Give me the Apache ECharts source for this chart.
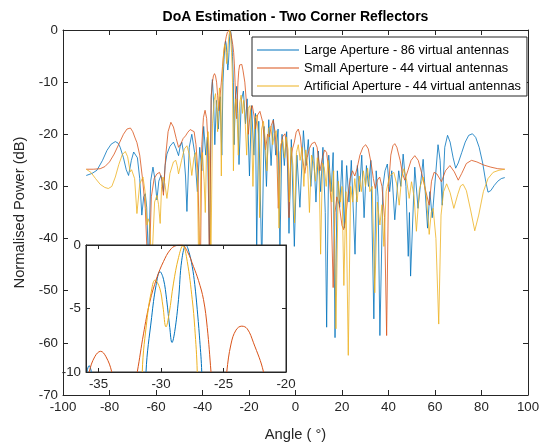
<!DOCTYPE html>
<html>
<head>
<meta charset="utf-8">
<script src="https://cdn.jsdelivr.net/npm/echarts@6/dist/echarts.min.js"></script>
<style>html,body{margin:0;padding:0;background:#fff}#c{width:549px;height:447px}</style>
</head>
<body>
<div id="c"></div>
<script>
// ---- data: [angle (deg), normalised power (dB)] ----
const seriesNames = ['Large Aperture - 86 virtual antennas', 'Small Aperture - 44 virtual antennas', 'Artificial Aperture - 44 virtual antennas'];
const mainXTicks = [-100, -80, -60, -40, -20, 0, 20, 40, 60, 80, 100];
const mainYTicks = [-70, -60, -50, -40, -30, -20, -10, 0];
const insetXTicks = [-35, -30, -25, -20];
const insetYTicks = [-10, -5, 0];

const largeAperture = [
[-90,-27.9],[-87.5,-27.5],[-85.4,-26.9],[-83,-25],[-81.1,-23.1],[-79.3,-21.9],[-77.5,-21.4],[-76.3,-21.7],[-75.4,-22.5],[-74,-24.5],[-72.8,-26.8],[-71.8,-27.9],[-70.6,-25],[-69.6,-23.4],[-68.9,-23.1],[-68,-24.5],[-67,-28.5],[-66.1,-35.5],[-65.3,-32],[-64.6,-31.4],[-64,-34],[-63.2,-45],[-62.3,-29],[-61.3,-26.3],[-60.4,-28.8],[-59.6,-32.6],[-58.8,-29],[-57.9,-27.9],[-57.3,-29],[-56.8,-31.0],[-56.1,-26],[-55.3,-23.8],[-54,-22.3],[-52.5,-21.5],[-51.3,-22.8],[-50.3,-24.1],[-49.6,-22.3],[-48.9,-21.5],[-48,-24],[-47.3,-28],[-46.7,-34.8],[-45.7,-22.5],[-44.6,-20.0],[-43.4,-23.5],[-42.2,-31.0],[-41.2,-22.5],[-40.3,-27],[-39.5,-18.5],[-38.6,-24],[-37.9,-20.5],[-37.0,-42],[-36.2,-12.5],[-35.75,-9.5],[-35.2,-14],[-34.7,-22],[-34.0,-13.5],[-33.2,-19],[-32.4,-12.8],[-31.7,-24],[-31.2,-10],[-30.75,-5.7],[-30.4,-3.2],[-30.08,-2.1],[-29.8,-2.7],[-29.55,-4.3],[-29.3,-6.5],[-29.12,-7.68],[-28.9,-6.8],[-28.6,-4.3],[-28.34,-1.2],[-28.0,0],[-27.75,-0.6],[-27.5,-1.7],[-27.3,-3.1],[-27.1,-5.1],[-26.9,-7.5],[-26.74,-10],[-26.4,-22],[-25.8,-12.5],[-25.3,-10.8],[-24.8,-16],[-24.3,-25.8],[-23.3,-13.5],[-22.4,-11.7],[-21.5,-18],[-20.8,-13.2],[-19.8,-28],[-18.9,-14.5],[-17.9,-24],[-17.2,-16],[-16.7,-42],[-15.8,-17.5],[-14.5,-45],[-13.5,-18.5],[-12.5,-30],[-11.5,-17.2],[-10.5,-26],[-9.5,-17.1],[-8.5,-24],[-7.5,-19],[-6.7,-42],[-5.8,-20],[-4.8,-26],[-3.8,-19.5],[-2.8,-39],[-1.8,-21],[-0.5,-41.5],[0.6,-24],[1.9,-34],[3.4,-19.3],[4.5,-26],[5.5,-21],[6.6,-30],[7.7,-22.5],[8.8,-33],[9.8,-23.2],[10.8,-31],[11.8,-22.5],[12.8,-35],[13.4,-57],[14.3,-24],[15.3,-31],[16.2,-23.5],[17.0,-59],[18.0,-27],[19.0,-34],[20.0,-25],[21.0,-38],[22.0,-26],[23.0,-33],[24.0,-25],[25.6,-43],[26.6,-26],[27.5,-31],[28.5,-24],[29.5,-36],[30.5,-26],[31.4,-30],[32.4,-25],[33.7,-55.4],[34.7,-27],[35.5,-32],[36.3,-58.6],[37.6,-30],[38.5,-27],[39.5,-25.7],[40.5,-31],[41.4,-27],[42.7,-36.4],[44.4,-27],[45.3,-30],[46.3,-23.8],[47.5,-30],[48.5,-43.4],[49.0,-35],[49.5,-47.2],[51.3,-26.3],[52.7,-34.2],[54.9,-24.8],[56.8,-38],[57.8,-31],[58.8,-36],[61.3,-22],[62.2,-25],[63.1,-33.6],[64.2,-22.5],[65.4,-20.2],[66.5,-21.5],[67.8,-24.5],[68.9,-26.5],[70,-25.5],[71.5,-23.5],[73,-21.5],[74.5,-20.2],[76.1,-19.9],[77.5,-20.6],[79,-22.5],[80.5,-25.5],[81.8,-29],[82.8,-31.1],[84,-30.8],[85.5,-29.8],[87,-29],[88.5,-28.5],[90,-28.3]
];

const smallAperture = [
[-90,-26.7],[-87,-26.7],[-84,-26.6],[-82,-26.2],[-80,-25.3],[-78,-23.8],[-76,-21.9],[-74,-20.0],[-72.5,-19.0],[-71.8,-18.7],[-71,-18.8],[-70,-19.5],[-69,-20.7],[-68.2,-21.6],[-67,-24],[-65.8,-28.5],[-64.6,-34.2],[-63.2,-50],[-62,-32],[-60.8,-28.5],[-59.6,-27.6],[-58.5,-27.3],[-57.6,-28.4],[-56.8,-31.7],[-55.8,-24],[-54.8,-19.5],[-53.6,-17.7],[-52.5,-18.6],[-51.3,-20.8],[-50.3,-22.5],[-49.3,-21.8],[-48.3,-20.8],[-47.3,-20.3],[-46.3,-19.6],[-45.3,-19.1],[-44.5,-18.8],[-43.6,-19.5],[-42.8,-22],[-42,-27],[-41.0,-50],[-40.3,-22],[-39.6,-16.8],[-38.9,-15.4],[-38.2,-17],[-37.5,-23],[-37.0,-50],[-36.3,-13],[-35.74,-10],[-35.3,-8.8],[-34.83,-8.37],[-34.4,-8.8],[-33.94,-10],[-33.5,-12.5],[-33.0,-15.5],[-32.5,-13],[-31.9,-10],[-31.4,-7.0],[-30.9,-4.5],[-30.34,-2.6],[-29.8,-1.3],[-29.28,-0.4],[-28.8,-0.05],[-28.34,0],[-27.9,-0.5],[-27.4,-1.7],[-27.0,-2.8],[-26.6,-4.3],[-26.3,-6.5],[-26.0,-10],[-25.6,-15],[-25.35,-17],[-25.0,-13],[-24.74,-10],[-24.4,-7.8],[-24.0,-6.7],[-23.54,-6.39],[-23.1,-6.6],[-22.6,-7.7],[-21.8,-10],[-21.0,-14.5],[-20.3,-20],[-19.4,-15.5],[-18.6,-14.5],[-17.8,-16.5],[-17.2,-19],[-16.3,-16.3],[-15.3,-15.6],[-14.2,-17.5],[-12.9,-23],[-12.0,-20],[-11.2,-20.5],[-10.4,-18.3],[-9.6,-17.3],[-8.8,-19.5],[-8.0,-24.5],[-7.4,-34.2],[-6.6,-23.5],[-5.6,-20.5],[-4.5,-19.9],[-3.7,-22.5],[-3.2,-27],[-2.8,-36],[-2.1,-25],[-1.3,-22.8],[-0.5,-21.5],[0.3,-19.6],[1.2,-19.0],[2.1,-20.5],[3.0,-24.5],[4.0,-27.5],[5.0,-24.5],[6.0,-22.7],[7.0,-21.8],[8.3,-21.5],[9.3,-22.5],[10.5,-27],[11.6,-24.5],[12.5,-23],[13.4,-23.5],[14.3,-27],[15.3,-33],[16.2,-49.4],[17.0,-35],[17.8,-32],[18.8,-33.5],[20.0,-37.5],[20.7,-38.3],[21.5,-36.5],[22.5,-32],[23.5,-28.5],[24.5,-27],[25.5,-28],[26.5,-26.5],[27.7,-24],[29.0,-22.5],[30.2,-22.0],[31.3,-22.8],[32.5,-25.5],[33.5,-28.5],[34.3,-30.4],[35.2,-28.8],[36.2,-28.2],[37.2,-30],[38.3,-36],[39.2,-58.6],[40.0,-30],[41.0,-24],[41.9,-22.2],[42.7,-21.8],[43.6,-22.5],[45,-25],[46,-27.5],[47,-28.8],[48.3,-27],[49.7,-25],[51.3,-24.1],[52.8,-25],[54.3,-27.5],[55.8,-30.5],[57.5,-33.6],[58.5,-29],[59.6,-27.3],[60.8,-27.6],[62.8,-29.1],[64.5,-27],[66.4,-26.0],[68.3,-27.2],[70.0,-28.8],[71.5,-27.5],[73.5,-25.6],[75.7,-25.0],[78,-25.3],[81,-25.9],[84,-26.3],[87,-26.6],[90,-26.7]
];

const artificialAperture = [
[-90,-26.7],[-88,-27.3],[-86,-28.5],[-84,-29.6],[-82,-30.2],[-80.5,-30.4],[-79,-30.0],[-77.5,-28.2],[-76,-25.8],[-74.5,-23.9],[-73.2,-23.3],[-72.2,-24.3],[-71.1,-27.2],[-70.5,-26.8],[-69.9,-26.5],[-69.2,-28.5],[-68.2,-35.2],[-67,-29.5],[-65.6,-28.2],[-64.7,-31],[-63.9,-37.4],[-63.4,-36.2],[-62.8,-37],[-61.8,-45],[-60.6,-33],[-59.6,-31.7],[-58.9,-33.5],[-58.2,-37.1],[-57.6,-30],[-57.0,-28.2],[-56.2,-29.5],[-55.3,-32.3],[-54,-27.5],[-52.5,-25.3],[-51.5,-25.0],[-50.9,-26],[-50.3,-27.6],[-49,-25],[-47.8,-22.8],[-46.7,-22.2],[-45.6,-24],[-44.6,-27.9],[-43.7,-24.5],[-42.9,-23.5],[-42.2,-28],[-41.5,-50],[-40.7,-26],[-40.0,-23.5],[-39.3,-29],[-38.8,-35],[-38.2,-22],[-37.6,-19.5],[-37.0,-24],[-36.4,-45],[-35.7,-18],[-35.0,-13.5],[-34.4,-12.2],[-33.9,-15],[-33.5,-19.5],[-33.1,-14],[-32.7,-11.1],[-32.3,-14],[-31.9,-28],[-31.5,-10],[-31.1,-5.7],[-30.8,-3.8],[-30.48,-2.76],[-30.1,-3.4],[-29.85,-4.8],[-29.6,-6.45],[-29.35,-5.4],[-29.0,-3.0],[-28.6,-1.0],[-28.25,-0.05],[-27.9,-1.3],[-27.5,-4.3],[-27.3,-6.5],[-27.1,-10],[-26.7,-27],[-26.2,-15],[-25.6,-13.2],[-25.0,-18],[-24.6,-24],[-24.0,-14],[-23.4,-12.5],[-22.8,-16],[-22.3,-13.5],[-21.6,-18],[-21.0,-24],[-20.3,-15],[-19.6,-14.5],[-18.9,-19],[-18.3,-30],[-17.5,-17],[-16.7,-16.3],[-16.0,-20],[-15.4,-36],[-14.6,-19],[-13.8,-17.5],[-13.0,-21],[-12.3,-27],[-11.5,-18.8],[-10.6,-18.5],[-9.8,-22],[-9.1,-20],[-8.3,-19.3],[-7.6,-25],[-7.1,-38],[-6.4,-22],[-5.5,-21],[-4.7,-24.5],[-4.0,-20.5],[-3.2,-23],[-2.6,-33],[-1.9,-22.5],[-1.1,-26],[-0.4,-37],[0.4,-23.5],[1.2,-22],[2.0,-25],[2.8,-22.5],[3.6,-30],[4.4,-23],[5.2,-26],[6.0,-35],[6.9,-24],[7.8,-25.5],[8.6,-29],[9.4,-24.5],[10.2,-28],[10.8,-43],[11.6,-25.5],[12.4,-26.5],[13.2,-30],[14.0,-25],[14.8,-28],[15.6,-33],[16.4,-27],[17.4,-57.3],[18.4,-29],[19.3,-33],[20.0,-30],[20.8,-49],[21.7,-31],[22.7,-62.4],[23.7,-30],[24.6,-33],[25.5,-28.5],[26.5,-33],[27.4,-28],[28.3,-31],[29.2,-27],[30.1,-30],[31.0,-26.5],[32.0,-31],[33.0,-30],[34.1,-50.4],[35.2,-33],[36.3,-37.4],[37.2,-33.5],[38.0,-41.5],[39.0,-31],[40.5,-28],[42.3,-27.3],[43.5,-29.5],[44.6,-33.6],[45.6,-28.5],[46.6,-26.6],[47.7,-28.5],[48.9,-32.3],[49.9,-29.1],[51.0,-32],[52.0,-38.6],[53.3,-30.5],[54.9,-28.2],[56.3,-32],[57.5,-39.2],[58.4,-35],[59.2,-34.2],[60.4,-40],[61.6,-56.4],[62.6,-35.5],[63.7,-31],[65.0,-29.5],[66.5,-31.2],[68.1,-34.2],[69.8,-31.5],[71.0,-29.9],[72.1,-29.6],[73.5,-30.8],[75.3,-34.5],[77.1,-38.5],[78.8,-35.5],[80.8,-31],[82.8,-28.5],[85,-27.3],[87.5,-26.9],[90,-26.7]
];

// ---- chart ----
const FONT = '"Liberation Sans", Arial, Helvetica, sans-serif';
const INK = '#262626';
const COLORS = ['#0072BD', '#D95319', '#EDB120'];
const seriesData = [largeAperture, smallAperture, artificialAperture];

function axisCommon(extra) {
  return Object.assign({
    type: 'value',
    axisLine: { show: true, onZero: false, lineStyle: { color: INK, width: 1 } },
    axisTick: { show: true, inside: true, length: 5, lineStyle: { color: INK, width: 1 } },
    axisLabel: { show: true, color: INK, fontSize: 13.3, fontFamily: FONT },
    splitLine: { show: false }
  }, extra);
}

const chart = echarts.init(document.getElementById('c'), null, { renderer: 'canvas' });

const series = [];
seriesData.forEach((d, i) => {
  series.push({
    type: 'line', name: seriesNames[i], data: d, xAxisIndex: 0, yAxisIndex: 0,
    symbol: 'none', smooth: false, clip: true, z: 2,
    lineStyle: { color: COLORS[i], width: 0.8 }, itemStyle: { color: COLORS[i] }
  });
});
seriesData.forEach((d, i) => {
  series.push({
    type: 'line', name: seriesNames[i], data: d, xAxisIndex: 2, yAxisIndex: 2,
    symbol: 'none', smooth: 0.4, clip: true, zlevel: 1, z: 3,
    lineStyle: { color: COLORS[i], width: 1 }, itemStyle: { color: COLORS[i] }
  });
});

chart.setOption({
  animation: false,
  backgroundColor: '#fff',
  grid: [
    { left: 63, top: 30, width: 465, height: 368, show: false },
    { left: 86, top: 245, width: 200, height: 127, show: true, backgroundColor: '#fff', borderColor: INK, borderWidth: 1, zlevel: 1, z: 0 }
  ],
  xAxis: [
    axisCommon({ gridIndex: 0, position: 'bottom', min: mainXTicks[0], max: mainXTicks[mainXTicks.length - 1], interval: 20,
      axisLabel: { color: INK, fontSize: 13.3, fontFamily: FONT, margin: 6 },
      name: 'Angle ( \u00b0)', nameLocation: 'middle', nameGap: 32,
      nameTextStyle: { color: INK, fontSize: 14.7, fontFamily: FONT } }),
    axisCommon({ gridIndex: 0, position: 'top', min: mainXTicks[0], max: mainXTicks[mainXTicks.length - 1], interval: 20,
      axisLabel: { show: false } }),
    axisCommon({ gridIndex: 1, position: 'bottom', min: -36, max: -20, zlevel: 1, z: 5,
      axisTick: { show: true, inside: true, length: 4, customValues: insetXTicks, lineStyle: { color: INK } },
      axisLabel: { show: true, customValues: insetXTicks, color: INK, fontSize: 13.3, fontFamily: FONT, margin: 6 } }),
    axisCommon({ gridIndex: 1, position: 'top', min: -36, max: -20, zlevel: 1, z: 5,
      axisTick: { show: true, inside: true, length: 4, customValues: insetXTicks, lineStyle: { color: INK } },
      axisLabel: { show: false } })
  ],
  yAxis: [
    axisCommon({ gridIndex: 0, position: 'left', min: mainYTicks[0], max: mainYTicks[mainYTicks.length - 1], interval: 10,
      axisLabel: { color: INK, fontSize: 13.3, fontFamily: FONT, margin: 5 },
      name: 'Normalised Power (dB)', nameLocation: 'middle', nameGap: 31,
      nameTextStyle: { color: INK, fontSize: 14.7, fontFamily: FONT } }),
    axisCommon({ gridIndex: 0, position: 'right', min: mainYTicks[0], max: mainYTicks[mainYTicks.length - 1], interval: 10,
      axisLabel: { show: false } }),
    axisCommon({ gridIndex: 1, position: 'left', min: insetYTicks[0], max: insetYTicks[insetYTicks.length - 1], interval: 5, zlevel: 1, z: 5,
      axisTick: { show: true, inside: true, length: 4, lineStyle: { color: INK } },
      axisLabel: { color: INK, fontSize: 13.3, fontFamily: FONT, margin: 5 } }),
    axisCommon({ gridIndex: 1, position: 'right', min: insetYTicks[0], max: insetYTicks[insetYTicks.length - 1], interval: 5, zlevel: 1, z: 5,
      axisTick: { show: true, inside: true, length: 4, lineStyle: { color: INK } },
      axisLabel: { show: false } })
  ],
  legend: {
    data: seriesNames, orient: 'vertical', left: 252, top: 37,
    icon: 'rect', itemWidth: 42, itemHeight: 1.2, itemGap: 4,
    padding: [6, 6, 3, 5],
    backgroundColor: '#fff', borderColor: INK, borderWidth: 1,
    textStyle: { color: '#000', fontSize: 12.8, fontFamily: FONT, lineHeight: 14 },
    selectedMode: false
  },
  graphic: [
    { type: 'text', x: 295.5, y: 17, style: { text: 'DoA Estimation - Two Corner Reflectors', fill: '#000',
      font: 'bold 14px ' + FONT, textAlign: 'center', textVerticalAlign: 'middle' } }
  ],
  series: series
});
</script>
</body>
</html>
